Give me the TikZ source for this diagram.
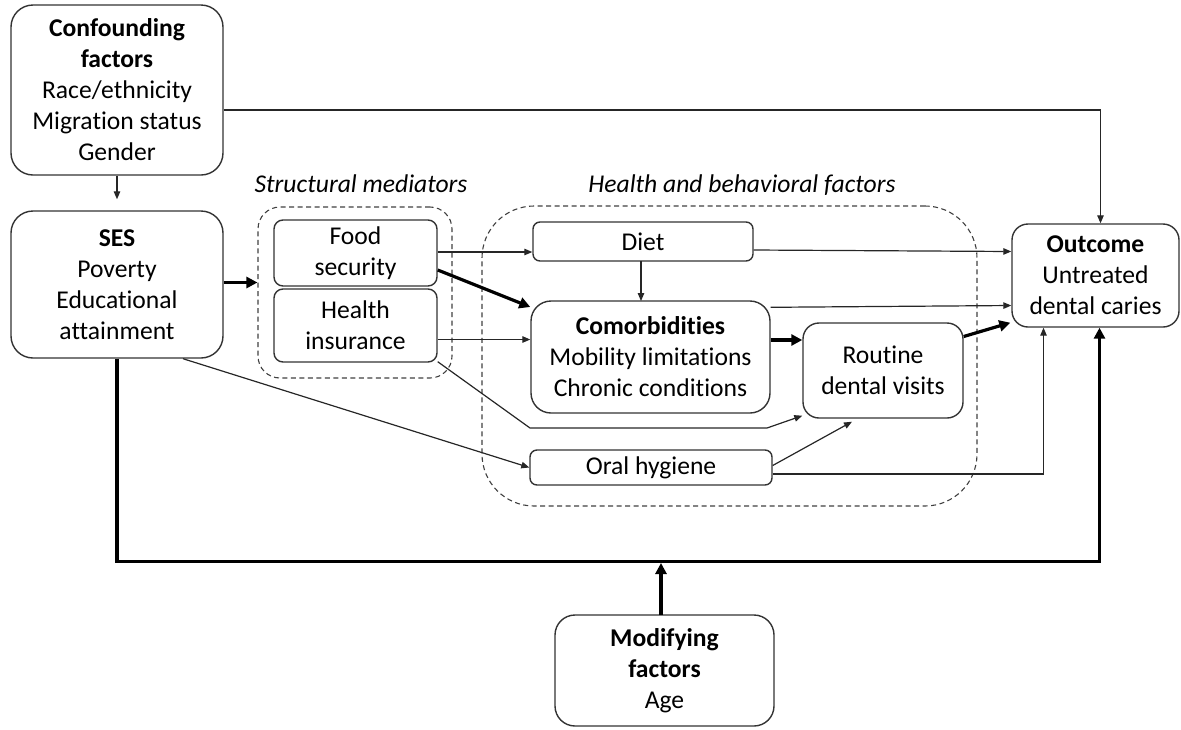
\documentclass[tikz,border=0pt]{standalone}
\usepackage{fontspec}
\setmainfont{Carlito}[Ligatures=NoCommon]
\usetikzlibrary{arrows.meta,calc}
\begin{document}
\begin{tikzpicture}[x=1pt,y=-1pt,
  box/.style={draw=black!80, line width=1.4pt, rounded corners=#1, align=center, inner sep=0pt,
    font=\fontsize{25.6}{31}\selectfont},
  box/.default=10pt,
  grp/.style={draw=black!75, line width=1.1pt, dash pattern=on 5pt off 3.5pt, rounded corners=#1, inner sep=0pt},
  lab/.style={font=\fontsize{25.6}{31}\selectfont\itshape, inner sep=0pt},
  conn/.style={draw=black!85, line width=1.2pt, -{Triangle[length=8pt,width=6.5pt]}},
  thk/.style={draw=black, line width=3.2pt, -{Triangle[length=11pt,width=11pt]}}
]
\useasboundingbox (0,0) rectangle (1181,729);

% groups
\node[grp=22pt, minimum width=194pt, minimum height=171pt] (sm) at (355,292.5) {};
\node[grp=52pt, minimum width=495pt, minimum height=300pt] (hb) at (729.5,356) {};
\node[lab] (smlab) at (361,184) {Structural mediators};
\node[lab] (hblab) at (742,185) {Health and behavioral factors};

% nodes
\node[box=22pt, minimum width=212pt, minimum height=170pt] (conf) at (117,90)
  {\textbf{Confounding}\\\textbf{factors}\\Race/ethnicity\\Migration status\\Gender};
\node[box=22pt, minimum width=212pt, minimum height=147pt] (ses) at (117,284.5)
  {\textbf{SES}\\Poverty\\Educational\\attainment};
\node[box=9pt, minimum width=163pt, minimum height=66pt] (food) at (355.5,253)
  {Food\\security};
\node[box=9pt, minimum width=163pt, minimum height=73pt] (health) at (355.5,325.5)
  {Health\\insurance};
\node[box=7pt, minimum width=220pt, minimum height=39pt] (diet) at (643,241.5) {Diet};
\node[box=20pt, minimum width=239pt, minimum height=112pt] (comorb) at (650.5,357)
  {\textbf{Comorbidities}\\Mobility limitations\\Chronic conditions};
\node[box=16pt, minimum width=160pt, minimum height=95pt] (routine) at (883,370.5)
  {Routine\\dental visits};
\node[box=7pt, minimum width=242pt, minimum height=35pt] (oral) at (651,467.5) {Oral hygiene};
\node[box=16pt, minimum width=167pt, minimum height=103pt] (outcome) at (1095.5,275.5)
  {\textbf{Outcome}\\Untreated\\dental caries};
\node[box=20pt, minimum width=219pt, minimum height=111pt] (modif) at (664.5,670.5)
  {\textbf{Modifying}\\\textbf{factors}\\Age};

% helper coordinates
\coordinate (cf1) at ($(conf.east)+(0,20)$);
\coordinate (oc1) at ($(outcome.north)+(5,0)$);
\coordinate (s1) at ($(ses.east)+(0,-2)$);
\coordinate (f1) at ($(food.east)+(0,-1)$);
\coordinate (f2) at ($(food.east)+(0,17)$);
\coordinate (c1) at ($(comorb.west)+(0,-50)$);
\coordinate (h1) at ($(health.east)+(0,14)$);
\coordinate (h2) at ($(health.south east)+(0,-1)$);
\coordinate (hi1) at (530,428);
\coordinate (hi2) at (767,428);
\coordinate (r1) at ($(routine.south west)+(0,-3)$);
\coordinate (s2) at ($(ses.south)+(66,0)$);
\coordinate (d1) at ($(diet.east)+(0,8.5)$);
\coordinate (o1) at ($(outcome.west)+(0,-24)$);
\coordinate (d2) at (641,261);
\coordinate (c2) at (641,301);
\coordinate (c3) at ($(comorb.north east)+(0,7)$);
\coordinate (o2) at ($(outcome.west)+(0,30)$);
\coordinate (c4) at ($(comorb.east)+(0,-17)$);
\coordinate (r2) at ($(routine.east)+(0,-34)$);
\coordinate (o3) at ($(outcome.south west)+(-1,-5)$);
\coordinate (g1) at ($(oral.east)+(0,-2)$);
\coordinate (r3) at ($(routine.south)+(-31,3)$);
\coordinate (g2) at ($(oral.east)+(0,6.5)$);
\coordinate (o4) at ($(outcome.south)+(-52,0)$);
\coordinate (bl) at ($(ses.south)+(0,203)$);
\coordinate (o5) at ($(outcome.south)+(4,0)$);
\coordinate (m1) at (661,615);
\coordinate (mj) at (661,561);

% connectors
\draw[conn, shorten >=11pt] (conf.south) -- (ses.north);
\draw[conn] (cf1) -| (oc1);
\draw[thk] (s1) -- (s1 -| sm.west);
\draw[conn] (f1) -- (f1 -| diet.west);
\draw[thk] (f2) -- (c1);
\draw[conn] (h1) -- (h1 -| comorb.west);
\draw[conn] (h2) -- (hi1) -- (hi2) -- (r1);
\draw[conn] (s2) -- (oral.west);
\draw[conn] (d1) -- (o1);
\draw[conn] (d2) -- (c2);
\draw[conn] (c3) -- (o2);
\draw[thk] (c4) -- (c4 -| routine.west);
\draw[thk] (r2) -- (o3);
\draw[conn] (g1) -- (r3);
\draw[conn] (g2) -| (o4);
\draw[thk] (ses.south) -- (bl) -| (o5);
\draw[thk, shorten >=2pt] (m1) -- (mj);
\end{tikzpicture}
\end{document}
